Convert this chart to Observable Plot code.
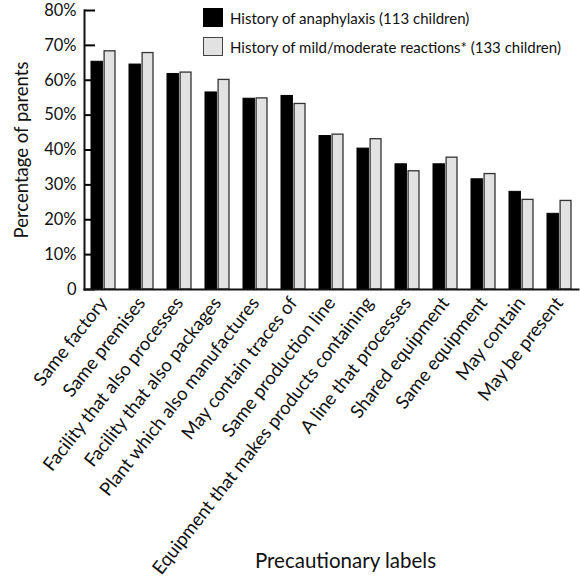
<!DOCTYPE html>
<html><head><meta charset="utf-8">
<script src="https://cdn.jsdelivr.net/npm/d3@7"></script>
<script src="https://cdn.jsdelivr.net/npm/@observablehq/plot@0.6"></script>
<style>
body{margin:0;background:#fff;}
#wrap{position:relative;width:580px;height:580px;font-family:Lato,sans-serif;}
.leg{position:absolute;left:203px;display:flex;align-items:center;font-size:15px;color:#111;white-space:nowrap;}
.sw{width:20px;height:19px;box-sizing:border-box;border:1.5px solid #333;margin-right:7px;}
</style></head><body><div id="wrap"></div>
<script>
const categories = ["Same factory","Same premises","Facility that also processes","Facility that also packages","Plant which also manufactures","May contain traces of","Same production line","Equipment that makes products containing","A line that processes","Shared equipment","Same equipment","May contain","May be present"];
const anaphylaxis = [65.3, 64.5, 61.8, 56.5, 54.7, 55.5, 44.0, 40.4, 35.9, 35.9, 31.6, 28.0, 21.7];
const mild = [68.3, 67.8, 62.2, 60.1, 54.8, 53.2, 44.4, 43.1, 33.9, 37.8, 33.1, 25.7, 25.4];
const seriesNames = ["History of anaphylaxis (113 children)", "History of mild/moderate reactions* (133 children)"];
const seriesColors = ["#000000", "#e2e2e2"];
const yTicks = [0,10,20,30,40,50,60,70,80];
const xTitle = "Precautionary labels";
const yTitle = "Percentage of parents";

const rows = categories.map((c,i)=>({category:c, a:anaphylaxis[i], m:mild[i]}));

const chart = Plot.plot({
  width:580, height:580,
  marginLeft:84, marginRight:2, marginTop:10, marginBottom:291,
  style:{fontFamily:"Lato, sans-serif", color:"#111", background:"#fff"},
  x:{domain:categories, paddingInner:0.36, paddingOuter:0.16, label:null},
  y:{domain:[0,80], label:null},
  marks:[
    Plot.ruleY(yTicks, {y:d=>d, stroke:"#000", strokeWidth:2, insetRight:483}),
    Plot.barY(rows,{x:"category", y:"a", fill:seriesColors[0], stroke:"#000", strokeWidth:1, insetRight:12.6}),
    Plot.barY(rows,{x:"category", y:"m", fill:seriesColors[1], stroke:"#333", strokeWidth:1.3, insetLeft:13.1}),
    Plot.axisY({ticks:yTicks, tickSize:0, tickPadding:8, tickFormat:d=>d===0?"0":d+"%", fontSize:16.5, label:null}),
    Plot.axisY({ticks:[], label:yTitle, labelAnchor:"center", labelOffset:70, fontSize:18.5, labelArrow:"none"}),
    Plot.axisX({tickSize:0, tickRotate:-52, tickPadding:10, fontSize:18.5, label:null}),
    Plot.text([xTitle], {text:d=>d, frameAnchor:"bottom", dy:278, dx:14, fontSize:20.5, fill:"#111"}),
    Plot.frame({anchor:"left", strokeWidth:2}),
    Plot.frame({anchor:"bottom", strokeWidth:2})
  ]
});
const wrap = document.getElementById("wrap");
wrap.appendChild(chart);
seriesNames.forEach((name,i)=>{
  const d = document.createElement("div");
  d.className="leg";
  d.style.top = (8 + i*29) + "px";
  const sw = document.createElement("div");
  sw.className="sw";
  sw.style.background = seriesColors[i];
  sw.style.borderColor = i===0 ? "#000" : "#444";
  d.appendChild(sw);
  const t = document.createElement("span");
  t.textContent = name;
  d.appendChild(t);
  wrap.appendChild(d);
});
</script></body></html>
